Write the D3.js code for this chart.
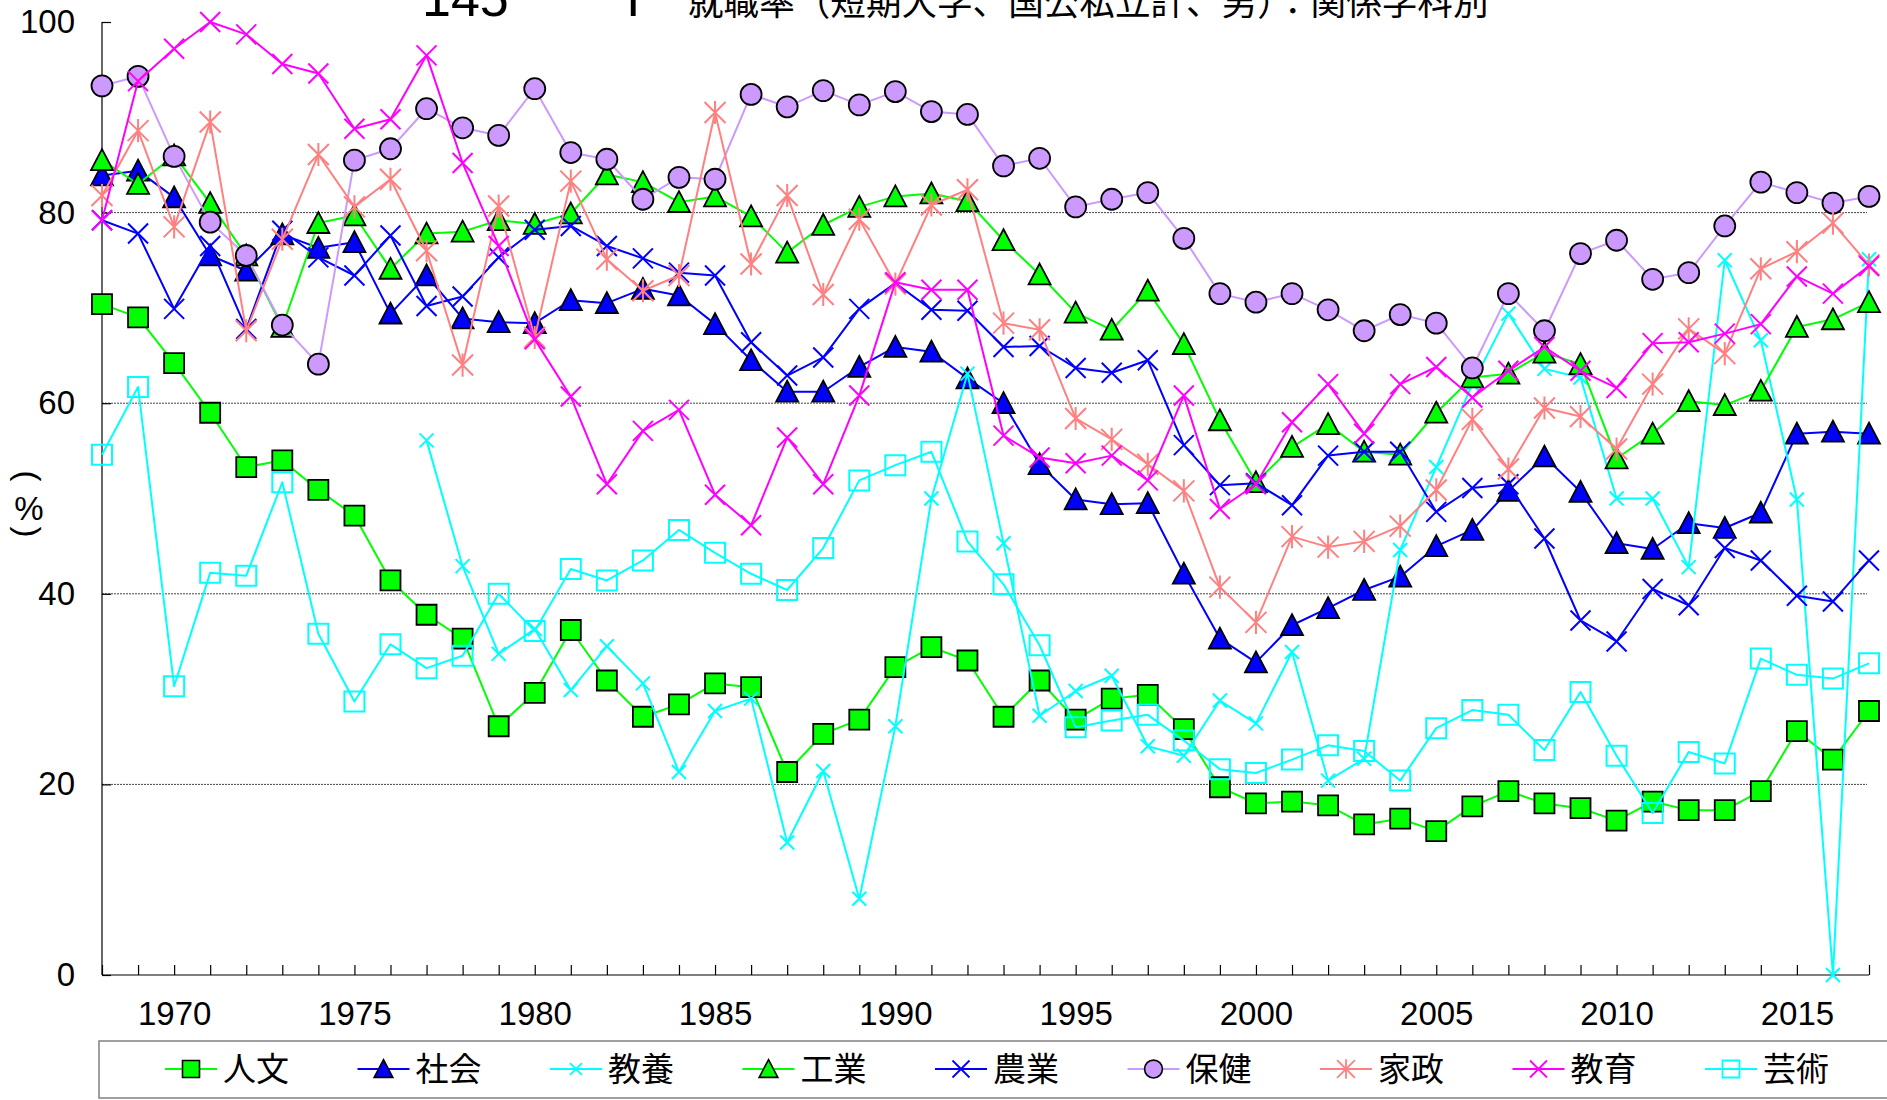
<!DOCTYPE html>
<html><head><meta charset="utf-8">
<script src="https://cdn.jsdelivr.net/npm/d3@7"></script>
<style>body{margin:0;background:#fff;} svg{display:block}</style>
</head><body>
<svg id="c" width="1887" height="1100"></svg>
<script>
const years = d3.range(1968, 2018);
const yTicks = [0, 20, 40, 60, 80, 100];
const xLabels = [1970, 1975, 1980, 1985, 1990, 1995, 2000, 2005, 2010, 2015];
const names = ['人文','社会','教養','工業','農業','保健','家政','教育','芸術'];

const jinbun = [70.4,69.0,64.2,59.0,53.3,54.0,50.9,48.2,41.4,37.8,35.3,26.1,29.6,36.2,30.9,27.1,28.4,30.6,30.2,21.3,25.3,26.8,32.3,34.4,33.0,27.1,30.9,26.8,29.0,29.4,25.8,19.7,18.0,18.2,17.8,15.8,16.4,15.1,17.7,19.3,18.0,17.5,16.2,18.2,17.3,17.3,19.3,25.6,22.6,27.7];
const shakai = [83.9,84.4,81.6,75.5,73.9,77.7,76.3,76.9,69.4,73.4,68.9,68.5,68.4,70.8,70.5,72.0,71.3,68.3,64.5,61.2,61.2,63.8,65.9,65.4,62.6,60.0,53.6,49.9,49.4,49.5,42.1,35.3,32.8,36.7,38.5,40.4,41.8,45.0,46.7,50.8,54.4,50.7,45.3,44.7,47.4,46.9,48.5,56.8,57.0,56.8];
const kyoyo = [null,null,null,null,null,null,null,null,null,56.1,42.9,33.7,36.3,29.9,34.5,30.6,21.3,27.7,29.0,13.9,21.4,8.0,26.1,50.0,63.1,45.3,27.2,29.8,31.4,24.0,23.0,28.8,26.4,33.9,20.4,22.7,44.6,53.3,62.0,69.4,63.6,62.7,50.0,50.0,42.8,75.0,66.6,49.9,0.0,75.1];
const kogyo = [85.5,83.0,86.0,81.0,75.5,68.0,78.9,79.7,74.1,77.8,78.0,79.2,78.8,79.9,84.0,83.2,81.1,81.7,79.6,75.8,78.7,80.6,81.7,82.0,81.2,77.1,73.5,69.5,67.7,71.8,66.2,58.2,51.7,55.4,57.8,54.9,54.6,59.0,62.7,63.1,65.3,64.1,54.2,56.8,60.2,59.8,61.3,68.0,68.8,70.6];
const nogyo = [79.2,77.8,69.9,76.5,67.8,78.1,75.3,73.4,77.6,70.2,71.2,75.3,78.2,78.6,76.5,75.2,73.7,73.4,66.4,62.9,64.8,69.9,72.6,69.8,69.7,65.9,66.0,63.7,63.2,64.5,55.6,51.4,51.6,49.3,54.5,54.9,54.9,48.6,51.1,51.5,45.8,37.2,35.0,40.5,38.8,44.8,43.5,39.8,39.2,43.5];
const hoken = [93.3,94.3,85.9,79.0,75.5,68.2,64.1,85.5,86.7,90.9,88.9,88.1,93.0,86.3,85.6,81.4,83.7,83.5,92.4,91.1,92.8,91.3,92.7,90.6,90.3,84.9,85.7,80.6,81.4,82.1,77.3,71.5,70.6,71.5,69.8,67.6,69.3,68.4,63.7,71.5,67.6,75.7,77.1,73.0,73.7,78.6,83.2,82.1,81.0,81.7];
const kasei = [81.8,88.6,78.5,89.5,67.6,77.2,86.1,80.6,83.5,76.0,64.0,80.7,66.9,83.3,75.1,71.8,73.4,90.5,74.6,81.8,71.4,79.3,72.5,80.8,82.4,68.4,67.7,58.4,56.2,53.6,50.8,40.7,37.0,46.0,44.9,45.5,47.1,50.9,58.3,53.1,59.5,58.6,55.2,62.0,67.8,65.2,74.1,75.9,78.9,74.5];
const kyoiku = [79.2,93.8,97.2,100.0,98.7,95.6,94.6,88.8,89.8,96.5,85.2,76.5,66.7,60.7,51.5,57.1,59.3,50.4,47.2,56.4,51.5,60.8,72.7,71.9,71.9,56.6,54.3,53.7,54.5,51.9,60.8,48.9,51.5,58.0,62.0,56.8,62.0,63.8,60.6,63.4,65.9,63.4,61.6,66.3,66.4,67.3,68.3,73.3,71.5,74.4];
const geijutsu = [54.6,61.7,30.3,42.2,41.9,51.7,35.8,28.7,34.7,32.2,33.5,40.0,36.1,42.6,41.4,43.5,46.7,44.3,42.1,40.4,44.8,51.9,53.5,54.9,45.5,41.0,34.6,26.0,26.7,27.3,24.6,21.6,21.2,22.6,24.1,23.5,20.4,25.9,27.8,27.3,23.6,29.7,23.0,17.0,23.4,22.2,33.2,31.5,31.1,32.7];

const seriesValues = [jinbun, shakai, kyoyo, kogyo, nogyo, hoken, kasei, kyoiku, geijutsu];
const styles = [
  {color:'#00FF00', marker:'square',   fill:'#00FF00', mstroke:'#000'},
  {color:'#0000FF', marker:'triangle', fill:'#0000FF', mstroke:'#000'},
  {color:'#00FFFF', marker:'xsmall',   fill:'none',    mstroke:'#00FFFF'},
  {color:'#00FF00', marker:'triangle', fill:'#00FF00', mstroke:'#000'},
  {color:'#0000FF', marker:'x',        fill:'none',    mstroke:'#0000FF'},
  {color:'#CC99FF', marker:'circle',   fill:'#CC99FF', mstroke:'#000'},
  {color:'#FF8080', marker:'star',     fill:'none',    mstroke:'#FF8080'},
  {color:'#FF00FF', marker:'x',        fill:'none',    mstroke:'#FF00FF'},
  {color:'#00FFFF', marker:'square',   fill:'none',    mstroke:'#00FFFF'}
];

const svg = d3.select('#c');
const X0 = 102, X1 = 1869, Y0 = 975, Y1 = 22;
const x = d3.scaleLinear().domain([1968, 2017]).range([X0, X1]);
const y = d3.scaleLinear().domain([0, 100]).range([Y0, Y1]);
const FONT = "'Liberation Sans', Arial, sans-serif";
const JFONT = "'Noto Sans CJK JP', 'Noto Sans CJK SC', sans-serif";

// title (cut at top)
svg.append('text').attr('x', 422).attr('y', 16).attr('font-family', FONT).attr('font-size', 52).text('145');
svg.append('text').attr('x', 626).attr('y', 16).attr('font-family', FONT).attr('font-size', 52).text('I');
svg.append('text').attr('x', 688).attr('y', 15).attr('font-family', JFONT).attr('font-size', 35.6).text('就職率（短期大学、国公私立計、男）：関係学科別');

// gridlines
const grid = svg.append('g');
grid.selectAll('line').data([20,40,60,80]).join('line')
  .attr('x1', X0).attr('x2', X1 - 2).attr('y1', d => y(d)).attr('y2', d => y(d))
  .attr('stroke', '#444').attr('stroke-width', 1).attr('stroke-dasharray', '2,1');

// y axis
const yAxis = d3.axisLeft(y).tickValues(yTicks).tickSize(-9).tickPadding(27).tickFormat(d3.format('d'));
const gy = svg.append('g').attr('transform', `translate(${X0},0)`).call(yAxis);
gy.select('.domain').attr('stroke', '#000').attr('stroke-width', 1.2).attr('d', `M0,${Y1}V${Y0}`);
gy.selectAll('.tick line').attr('stroke', '#000').attr('stroke-width', 1.2);
gy.selectAll('.tick text').attr('font-family', FONT).attr('font-size', 33).attr('fill', '#000');

// x axis
const xAxis = d3.axisBottom(x).tickValues(years).tickSize(-10).tickFormat(d => xLabels.includes(d) ? d : '').tickPadding(27);
const gx = svg.append('g').attr('transform', `translate(0,${Y0})`).call(xAxis);
gx.select('.domain').attr('stroke', '#000').attr('stroke-width', 1.2).attr('d', `M${X0},0H${X1}`);
gx.selectAll('.tick line').attr('stroke', '#000').attr('stroke-width', 1.2);
gx.selectAll('.tick text').attr('font-family', FONT).attr('font-size', 33).attr('fill', '#000');

// y label (vertical)
const yl = svg.append('g').attr('font-family', FONT).attr('font-size', 33).attr('fill', '#000');
yl.append('text').attr('transform', 'translate(29,476) rotate(90)').attr('text-anchor', 'middle').attr('dy', '0.35em').text('(');
yl.append('text').attr('x', 29).attr('y', 508).attr('text-anchor', 'middle').attr('dy', '0.36em').text('%');
yl.append('text').attr('transform', 'translate(29,532) rotate(90)').attr('text-anchor', 'middle').attr('dy', '0.35em').text(')');

// marker path generator
function markerPath(type, s) {
  const h = s / 2;
  switch (type) {
    case 'square': return `M${-h},${-h}H${h}V${h}H${-h}Z`;
    case 'triangle': return `M0,${-h}L${h},${h*0.9}L${-h},${h*0.9}Z`;
    case 'circle': return `M${h},0A${h},${h} 0 1,1 ${-h},0A${h},${h} 0 1,1 ${h},0Z`;
    case 'x': case 'xsmall': return `M${-h},${-h}L${h},${h}M${-h},${h}L${h},${-h}`;
    case 'star': return `M${-h},${-h}L${h},${h}M${-h},${h}L${h},${-h}M0,${-h*1.1}V${h*1.1}`;
  }
}
const sizes = {square: 20, triangle: 22, circle: 21, x: 20, xsmall: 14, star: 21};

const line = d3.line().defined(d => d[1] != null).x(d => x(d[0])).y(d => y(d[1]));
const plot = svg.append('g');
seriesValues.forEach((vals, i) => {
  const st = styles[i];
  const pts = years.map((yr, j) => [yr, vals[j]]);
  const g = plot.append('g');
  g.append('path').datum(pts).attr('d', line).attr('fill', 'none')
    .attr('stroke', st.color).attr('stroke-width', 2).attr('stroke-linejoin', 'round');
  const filled = st.fill !== 'none';
  g.selectAll('path.m').data(pts.filter(d => d[1] != null)).join('path').attr('class', 'm')
    .attr('transform', d => `translate(${x(d[0])},${y(d[1])})`)
    .attr('d', markerPath(st.marker, sizes[st.marker]))
    .attr('fill', st.fill)
    .attr('stroke', st.mstroke)
    .attr('stroke-width', filled ? 1.8 : 2);
});

// legend
const lg = svg.append('g');
lg.append('rect').attr('x', 99).attr('y', 1041).attr('width', 1800).attr('height', 57)
  .attr('fill', 'none').attr('stroke', '#808080').attr('stroke-width', 1.5);
names.forEach((nm, i) => {
  const st = styles[i];
  const cx = 191 + i * 192.5, cy = 1069;
  lg.append('line').attr('x1', cx - 26).attr('x2', cx + 26).attr('y1', cy).attr('y2', cy)
    .attr('stroke', st.color).attr('stroke-width', 2);
  const filled = st.fill !== 'none';
  lg.append('path').attr('transform', `translate(${cx},${cy})`)
    .attr('d', markerPath(st.marker, sizes[st.marker] * 0.85))
    .attr('fill', st.fill).attr('stroke', st.mstroke).attr('stroke-width', filled ? 1.6 : 1.8);
  lg.append('text').attr('x', cx + 32).attr('y', cy).attr('dy', '0.36em')
    .attr('font-family', JFONT).attr('font-size', 33).attr('fill', '#000').text(nm);
});
</script>
</body></html>
